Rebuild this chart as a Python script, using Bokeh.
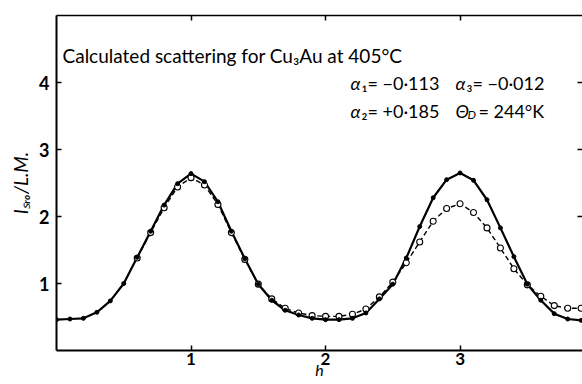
import math
from bokeh.plotting import figure
from bokeh.models import LinearAxis, FixedTicker, Label, Range1d
from bokeh.embed import file_html
from bokeh.resources import INLINE

# ---- data ----
h = [0.0, 0.1, 0.2, 0.3, 0.4, 0.5, 0.6, 0.7, 0.8, 0.9,
     1.0, 1.1, 1.2, 1.3, 1.4, 1.5, 1.6, 1.7, 1.8, 1.9,
     2.0, 2.1, 2.2, 2.3, 2.4, 2.5, 2.6, 2.7, 2.8, 2.9,
     3.0, 3.1, 3.2, 3.3, 3.4, 3.5, 3.6, 3.7, 3.8, 3.9]
i_solid = [0.46, 0.47, 0.48, 0.57, 0.74, 1.00, 1.39, 1.78, 2.17, 2.49,
           2.64, 2.52, 2.22, 1.78, 1.37, 0.99, 0.75, 0.60, 0.53, 0.48,
           0.46, 0.46, 0.48, 0.56, 0.77, 0.99, 1.38, 1.85, 2.28, 2.55,
           2.65, 2.54, 2.25, 1.83, 1.40, 0.99, 0.75, 0.55, 0.47, 0.45]

h_dashed = [0.6, 0.7, 0.8, 0.9,
            1.0, 1.1, 1.2, 1.3, 1.4, 1.5, 1.6, 1.7, 1.8, 1.9,
            2.0, 2.1, 2.2, 2.3, 2.4, 2.5, 2.6, 2.7, 2.8, 2.9,
            3.0, 3.1, 3.2, 3.3, 3.4, 3.5, 3.6, 3.7, 3.8, 3.9]
i_dashed = [1.38, 1.76, 2.13, 2.44,
            2.58, 2.47, 2.18, 1.76, 1.36, 0.99, 0.77, 0.63, 0.56, 0.52,
            0.51, 0.51, 0.54, 0.62, 0.80, 1.02, 1.31, 1.62, 1.93, 2.12,
            2.19, 2.06, 1.83, 1.53, 1.22, 0.98, 0.81, 0.67, 0.63, 0.63]

x_ticks = [1, 2, 3]
y_ticks = [1, 2, 3, 4]
right_ticks = [2, 3, 4]

title_text = "Calculated scattering for Cu\u2083Au at 405\u00b0C"
x_label = "h"
y_label = "I\u209b\u1d63\u2092/L.M."

# ---- layout ----
W, H = 582, 384
LEFT, TOP, BOTTOM = 56, 15, 34
X_END, Y_END = 3.91, 5.0

p = figure(width=W, height=H, output_backend="svg", toolbar_location=None,
           x_range=Range1d(0, X_END), y_range=Range1d(0, Y_END),
           min_border_left=LEFT, min_border_right=0, min_border_top=TOP,
           min_border_bottom=BOTTOM, x_axis_location=None, y_axis_location=None,
           background_fill_color="white", border_fill_color="white")
p.outline_line_color = None
p.xgrid.visible = False
p.ygrid.visible = False

frame_w = W - LEFT
frame_h = H - TOP - BOTTOM
def px(sx, sy):
    """canvas pixel -> data coords"""
    return ((sx - LEFT) / frame_w * X_END, (H - BOTTOM - sy) / frame_h * Y_END)

tick_font = "Lato"
common = dict(major_tick_in=5, major_tick_out=0, minor_tick_line_color=None,
              axis_line_color="black", major_tick_line_color="black",
              major_tick_line_width=1.5)
xa = LinearAxis(ticker=FixedTicker(ticks=x_ticks), axis_line_width=2,
                major_label_text_font=tick_font, major_label_text_font_size="17px",
                major_label_text_font_style="bold", major_label_text_color="black",
                major_label_standoff=2,
                axis_label=x_label, axis_label_text_font=tick_font,
                axis_label_text_font_style="italic", axis_label_text_font_size="16px",
                axis_label_text_color="black", axis_label_standoff=-8, **common)
p.add_layout(xa, "below")
ya = LinearAxis(ticker=FixedTicker(ticks=y_ticks), axis_line_width=2,
                major_label_text_font=tick_font, major_label_text_font_size="18px",
                major_label_text_font_style="bold", major_label_text_color="black",
                major_label_standoff=7,
                axis_label=y_label, axis_label_text_font=tick_font,
                axis_label_text_font_style="italic", axis_label_text_font_size="19px",
                axis_label_text_color="black", axis_label_standoff=4, **common)
p.add_layout(ya, "left")
ta = LinearAxis(ticker=FixedTicker(ticks=x_ticks), axis_line_width=1.5,
                major_label_text_font_size="1px", major_label_text_color=None,
                major_label_standoff=0, **common)
p.add_layout(ta, "above")
ra = LinearAxis(ticker=FixedTicker(ticks=right_ticks),
                major_label_text_font_size="1px", major_label_text_color=None,
                major_label_standoff=0, **common)
ra.axis_line_color = None
p.add_layout(ra, "right")

# ---- curves ----
p.line(h, i_solid, line_color="black", line_width=2.2)
p.line(h_dashed, i_dashed, line_color="black", line_width=1.4, line_dash="5 3")
p.scatter(h_dashed, i_dashed, size=6, fill_color="white", line_color="black", line_width=1.1)
p.scatter(h, i_solid, size=4, fill_color="black", line_color="black")

# ---- texts inside the frame ----
def add_text(text, sx, sy, size="18px", style="normal", align="left", font="Lato"):
    x, y = px(sx, sy)
    p.add_layout(Label(x=x, y=y, text=text, text_font=font, text_font_size=size,
                       text_font_style=style, text_align=align,
                       text_baseline="alphabetic", text_color="black"))

add_text(title_text, 62, 55, size="19px")
add_text("\u03b1", 350, 82, style="italic")
add_text("\u2081= \u22120\u00b7113", 361, 82)
add_text("\u03b1", 455, 82, style="italic")
add_text("\u2083= \u22120\u00b7012", 466, 82)
add_text("\u03b1", 350, 110, style="italic")
add_text("\u2082= +0\u00b7185", 361, 110)
add_text("\u0398", 455, 110, style="italic")
add_text("D", 467, 114, size="12px", style="italic")
add_text("= 244\u00b0K", 478, 110)

open("out.html", "w").write(file_html(p, INLINE))
